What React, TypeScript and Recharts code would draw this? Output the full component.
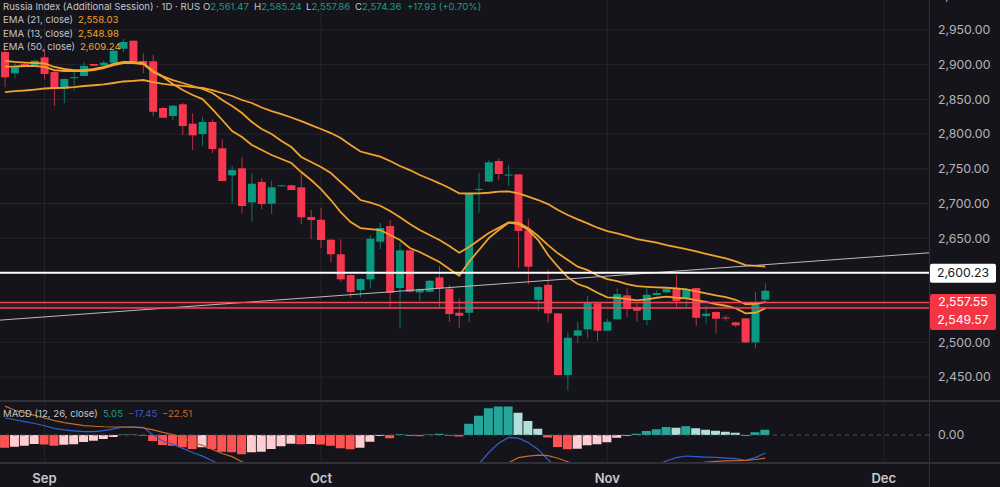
import {
  Bar,
  CartesianGrid,
  Cell,
  ComposedChart,
  Line,
  ReferenceArea,
  ReferenceLine,
  XAxis,
  YAxis,
} from "recharts";

const opens = [
  2918.3, 2887.6, 2901, 2899.1, 2910.6, 2889.4, 2865.4, 2880.5, 2883.7, 2901, 2899.1, 2902.8, 2923, 2934.6, 2905.3, 2904.9,
  2837.6, 2826, 2842.9, 2815, 2800.1, 2817.4, 2779.5, 2740.6, 2750.7, 2701.7, 2731, 2699.7, 2724.9, 2726.2, 2723.3, 2680.5,
  2676.6, 2647.8, 2626.8, 2596.9, 2575.3, 2590.7, 2645, 2667.5, 2578.2, 2632.5, 2572, 2572.9, 2593.6, 2577.2, 2542.6, 2542.6,
  2719.7, 2731.4, 2761.2, 2740.3, 2742, 2661.3, 2561.3, 2582.9, 2541.7, 2452.8, 2509.5, 2518.7, 2556.2, 2516.7, 2533.1, 2567.7,
  2550.4, 2532.1, 2568.1, 2572, 2577.7, 2562.3, 2578.2, 2537.8, 2543.6, 2535.7, 2528.8, 2534.5, 2499.9, 2561.47,
];
const highs = [
  2921.2, 2902, 2902.4, 2906.7, 2922.2, 2891.3, 2880.4, 2889.9, 2903.4, 2901.7, 2905.7, 2921.2, 2937, 2934.6, 2916.4, 2914,
  2839, 2841.9, 2845.2, 2829.9, 2825, 2821.3, 2792.5, 2754, 2767.4, 2743.5, 2736.3, 2732.8, 2726.6, 2726.6, 2743.5, 2690.6,
  2693, 2648.8, 2648.4, 2597.9, 2592.2, 2654.6, 2672.3, 2676.2, 2643.5, 2633.4, 2577.7, 2589.7, 2609.9, 2582.5, 2563.3, 2714.5,
  2744.3, 2762.6, 2765.1, 2755.4, 2742, 2677.2, 2580.6, 2605.1, 2542.2, 2514.4, 2529.6, 2566.7, 2557, 2533.5, 2577.7, 2577.7,
  2556.2, 2577.7, 2575.3, 2578.6, 2596.9, 2578.2, 2578.6, 2552.7, 2544.6, 2539.3, 2529.2, 2535, 2572.9, 2585.24,
];
const lows = [
  2867.4, 2880.4, 2896.7, 2898.1, 2878.9, 2840.4, 2844.3, 2862.5, 2883, 2898.1, 2898.8, 2902.4, 2918.3, 2903.9, 2887.6, 2826,
  2823.2, 2820.3, 2798.7, 2777, 2782.8, 2772.3, 2732, 2701.1, 2686.7, 2673.7, 2692, 2684.8, 2724.5, 2719, 2670.4, 2648.8,
  2636.3, 2615.2, 2587.3, 2564.2, 2564.8, 2577.8, 2634.4, 2548.9, 2520.1, 2571.4, 2559.9, 2571.4, 2548.9, 2529.2, 2521, 2528.8,
  2686.7, 2731, 2733.8, 2725.2, 2607.4, 2583.5, 2545, 2528.8, 2452.1, 2430.2, 2499.4, 2505.7, 2501.8, 2516.2, 2532.8, 2536.8,
  2529.6, 2524.9, 2567.7, 2571.4, 2551.2, 2549.8, 2523.9, 2527.3, 2512.9, 2531.1, 2522, 2499, 2491.3, 2557.86,
];
const closes = [
  2881.8, 2896.2, 2898.1, 2905.7, 2886.6, 2865.4, 2879.4, 2882, 2898.1, 2898.5, 2902.8, 2920.1, 2932.7, 2904.9, 2899.5, 2832.2,
  2823.6, 2840.9, 2811.6, 2798.2, 2817.4, 2778.5, 2732.4, 2748.2, 2696.4, 2728.5, 2699.2, 2723.3, 2726.2, 2719.4, 2680.1, 2676.2,
  2647.4, 2626.8, 2590.7, 2572.4, 2591.2, 2649.2, 2664.7, 2571.4, 2632.5, 2572.9, 2576.7, 2588.7, 2577.7, 2540.7, 2538.3, 2714.1,
  2721.1, 2759.3, 2742.5, 2741.7, 2660.3, 2608.9, 2579.6, 2541.7, 2452.8, 2506.6, 2517.2, 2556.6, 2516.7, 2529.6, 2569.5, 2547.9,
  2545.5, 2568.5, 2571, 2576.7, 2559.5, 2576.3, 2535.4, 2541.2, 2534, 2534.5, 2524.4, 2499.9, 2555.1, 2574.36,
];

const ema50 = [
  2860.6, 2862, 2862.8, 2864.2, 2865.7, 2866.4, 2866.8, 2867.8, 2869.3, 2870.4, 2871.7, 2873.6, 2875.8, 2876.8, 2877.9, 2875,
  2872.2, 2870.7, 2869.6, 2867.8, 2866.4, 2863.5, 2859.2, 2854.9, 2849.1, 2844.8, 2838.3, 2833.2, 2828.9, 2823.9, 2818.8, 2813,
  2807.3, 2801.5, 2794.3, 2784.3, 2774.9, 2771.3, 2767.4, 2761.2, 2754, 2748.2, 2741, 2735.3, 2729.1, 2722.3, 2714.7, 2714.4,
  2714.7, 2715.5, 2717, 2717.5, 2714.7, 2709.8, 2705, 2699.2, 2690.6, 2683.4, 2677.2, 2671.4, 2665.1, 2660.3, 2657, 2653.1,
  2648.8, 2646.3, 2643.5, 2640.1, 2637.3, 2634.4, 2631.1, 2627.6, 2624.3, 2621, 2616.7, 2611.3, 2610, 2609.24,
];
const ema21 = [
  2905.3, 2903.9, 2903.1, 2902.4, 2901.7, 2896.7, 2893.8, 2892.3, 2892.3, 2893.8, 2896.7, 2901, 2903.9, 2903.9, 2902.4, 2890.9,
  2883.2, 2877.9, 2873.6, 2869.3, 2865, 2859.2, 2849.1, 2840.4, 2830.4, 2817.4, 2807.3, 2800.1, 2790, 2781.4, 2767, 2759.8,
  2752.6, 2743.9, 2730.9, 2718, 2705, 2701.4, 2696.8, 2689.2, 2680.1, 2670.4, 2661.8, 2654.6, 2647.4, 2638.7, 2629.1, 2637.3,
  2647.4, 2657.4, 2665.1, 2672.9, 2672.3, 2664.2, 2653.1, 2640.1, 2628.2, 2618.6, 2609, 2604.1, 2596.5, 2591.2, 2588.3, 2584,
  2581, 2580, 2579.2, 2578.6, 2577.7, 2576.3, 2573.4, 2570.6, 2567.7, 2565.2, 2561.3, 2555.1, 2555.6, 2558.03,
];
const ema13 = [
  2897.1, 2897.4, 2898.1, 2898.1, 2896.7, 2892.3, 2890.9, 2890.9, 2890.9, 2892.3, 2895.2, 2899.5, 2902.4, 2902.4, 2901, 2889.4,
  2882.2, 2872.2, 2863.5, 2856.3, 2850.5, 2836.1, 2820.3, 2804.4, 2795.8, 2784.3, 2777.1, 2769.9, 2764.1, 2758.3, 2745.3, 2733.8,
  2720.8, 2705, 2687.7, 2673.3, 2664.6, 2663.2, 2661.8, 2654.6, 2647.4, 2635.8, 2630.1, 2622.9, 2615.7, 2605.6, 2595.9, 2616.1,
  2633, 2650.2, 2661.8, 2672.3, 2670.4, 2661.8, 2647.4, 2625.7, 2608.9, 2593.6, 2584, 2579.2, 2571.4, 2564.8, 2564.2, 2562.3,
  2560.5, 2561.9, 2564.2, 2565.7, 2564.2, 2563.3, 2560.9, 2558.4, 2555.1, 2552.7, 2549, 2541.7, 2542.6, 2548.98,
];

const histogram = [
  -12.3, -11.3, -10.4, -8.8, -9.2, -10.4, -9.4, -9, -6.8, -5.5, -3.9, -1.9, 0.5, 0.3, -0.8, -5.8,
  -9.7, -10.4, -12, -13.6, -12, -13.6, -16.2, -16.8, -18.8, -16.8, -16.2, -13.6, -11, -8.5, -9, -8.7,
  -9.2, -10.4, -12.9, -13.9, -12.3, -6.5, -1, -3.2, 0.8, -1, -1.1, 0.5, 1.3, -0.7, -1.5, 11,
  18.8, 25.9, 27.6, 27.8, 21.7, 13.6, 6.1, -2.5, -11.7, -13.9, -13.3, -10, -9, -7.1, -2.6, -0.7,
  1.3, 3.9, 5.5, 7.8, 7.1, 8.4, 6.5, 5.2, 4.2, 3.2, 2.2, -1, 2.6, 5.05,
];
const macdLine = [
  16.5, 14.8, 13, 11.2, 9, 6.5, 5, 4, 3.2, 3.3, 4.2, 6, 7.8, 7.8, 7.4, 0,
  -6, -9, -13, -17, -20.5, -25, -30, -34, -38, -42, -44, -45, -46, -47, -48, -49,
  -50, -51, -52, -53, -54, -52, -51, -50, -49, -48, -46, -45, -44, -45, -46, -38,
  -28, -17, -8, -2.3, -3, -7.4, -14, -24, -33, -38, -42, -44, -44, -42, -40, -38,
  -36, -33, -29, -25, -22, -20.4, -21, -21.4, -21.8, -22.4, -23, -24.6, -22, -17.45,
];
const signalLine = [
  28, 24, 21.5, 19, 16.5, 14, 12, 10.5, 9.2, 8.5, 8, 7.8, 7.8, 7.6, 7, 5,
  2.5, 0.5, -3, -7, -10, -14, -18, -21, -26, -29, -31, -33, -35, -37, -38, -39,
  -40, -41, -42, -43, -44, -44, -45, -45, -45, -45, -45, -45, -45, -45, -45, -43,
  -39, -34, -31, -27, -22, -20.5, -19.5, -20, -22.6, -26, -30, -33, -35, -36, -36, -36,
  -35.5, -35, -33.5, -32, -31, -29.5, -28, -26.2, -25.7, -25.2, -24.9, -24.6, -23.8, -22.51,
];

const priceTicks = [3000, 2950, 2900, 2850, 2800, 2750, 2700, 2650, 2500, 2450];
const priceGrid = [3000, 2950, 2900, 2850, 2800, 2750, 2700, 2650, 2600, 2550, 2500, 2450];
const monthTicks = [4, 32, 61, 89];
const monthLabels = ["Sep", "Oct", "Nov", "Dec"];

const BG = "#14141a";
const GRID = "#25252b";
const BORDER = "#303036";
const AXIS_TEXT = "#b4b5bb";
const UP = "#089981";
const DOWN = "#f7374f";
const EMA_COLOR = "#f2a22e";
const FONT = "Inter, sans-serif";

const xDomain = [-0.506, 93.58];

const priceData = opens.map((open, i) => ({
  i,
  open,
  close: closes[i],
  range: [lows[i], highs[i]],
  ema13: ema13[i],
  ema21: ema21[i],
  ema50: ema50[i],
}));

const macdData = histogram.map((hist, i) => ({
  i,
  hist,
  macd: macdLine[i],
  signal: signalLine[i],
}));

function histColor(i: number) {
  const v = histogram[i];
  const prev = i > 0 ? histogram[i - 1] : Infinity;
  if (v >= 0) return v >= prev ? "#26a69a" : "#b2dfdb";
  return v < prev ? "#ff5252" : "#ffcdd2";
}

function Candle(props: any) {
  const { x, y, width, height, payload } = props;
  const high = payload.range[1];
  const low = payload.range[0];
  const perUnit = Math.abs(height) / Math.max(high - low, 0.01);
  const top = Math.min(y, y + height);
  const bodyTop = top + (high - Math.max(payload.open, payload.close)) * perUnit;
  const bodyH = Math.max(Math.abs(payload.open - payload.close) * perUnit, 1);
  const color = payload.close >= payload.open ? UP : DOWN;
  const cx = x + width / 2;
  return (
    <g>
      <line x1={cx} x2={cx} y1={top} y2={top + Math.abs(height)} stroke={color} strokeWidth={1} strokeOpacity={0.75} />
      <rect x={x} y={bodyTop} width={width} height={bodyH} fill={color} />
    </g>
  );
}

function WhiteTag({ viewBox }: any) {
  const y = viewBox.y;
  return (
    <g>
      <rect x={930} y={y - 9} width={66} height={19} rx={2} fill="#ffffff" />
      <text x={963} y={y + 0.5} textAnchor="middle" dominantBaseline="middle" fill="#17171c" fontSize={12.3} fontFamily={FONT}>
        2,600.23
      </text>
    </g>
  );
}

function RedTag({ viewBox }: any) {
  const y = viewBox.y;
  return (
    <g>
      <rect x={930} y={y - 8.5} width={66} height={36} rx={2} fill="#f23645" />
      <text x={963} y={y + 0.5} textAnchor="middle" dominantBaseline="middle" fill="#fff" fontSize={12.3} fontFamily={FONT}>
        2,557.55
      </text>
      <text x={963} y={y + 18} textAnchor="middle" dominantBaseline="middle" fill="#fff" fontSize={12.3} fontFamily={FONT}>
        2,549.57
      </text>
    </g>
  );
}

const legendRows = [
  { label: "EMA (21, close)", value: "2,558.03", top: 13, x: 78 },
  { label: "EMA (13, close)", value: "2,548.98", top: 26.5, x: 78 },
  { label: "EMA (50, close)", value: "2,609.24", top: 39.5, x: 80 },
];
const ohlc = [
  { label: "O", value: "2,561.47", x: 203 },
  { label: "H", value: "2,585.24", x: 254 },
  { label: "L", value: "2,557.86", x: 306 },
  { label: "C", value: "2,574.36", x: 355 },
];

function Txt({ x, y, color, children }: any) {
  return (
    <div
      style={{
        position: "absolute",
        left: x,
        top: y,
        color,
        fontSize: 9.6,
        lineHeight: "13px",
        whiteSpace: "nowrap",
        fontFamily: FONT,
      }}
    >
      {children}
    </div>
  );
}

export default function App() {
  return (
    <div style={{ position: "absolute", left: 0, top: 0, width: 1000, height: 487, overflow: "hidden", background: BG }}>
      <div style={{ position: "absolute", left: 0, top: -10 }}>
        <ComposedChart width={1000} height={410} data={priceData} margin={{ top: 0, right: 0, bottom: 0, left: 0 }}>
          <CartesianGrid stroke={GRID} horizontalValues={priceGrid} verticalValues={monthTicks} />
          <XAxis dataKey="i" type="number" domain={xDomain} allowDataOverflow hide />
          <YAxis
            orientation="right"
            width={71}
            domain={[2416.9, 3007.6]}
            allowDataOverflow
            ticks={priceTicks}
            interval={0}
            axisLine={false}
            tickLine={false}
            tickMargin={3}
            tick={{ fill: AXIS_TEXT, fontSize: 12.3, fontFamily: FONT }}
            tickFormatter={(v: number) => v.toLocaleString("en-US", { minimumFractionDigits: 2 })}
          />
          <ReferenceArea y1={2549.57} y2={2557.55} fill="#f23645" fillOpacity={0.14} stroke="none" />
          <Bar dataKey="range" barSize={8} shape={<Candle />} isAnimationActive={false} />
          <Line dataKey="ema50" stroke={EMA_COLOR} strokeWidth={1.8} dot={false} activeDot={false} isAnimationActive={false} />
          <Line dataKey="ema21" stroke={EMA_COLOR} strokeWidth={1.8} dot={false} activeDot={false} isAnimationActive={false} />
          <Line dataKey="ema13" stroke={EMA_COLOR} strokeWidth={1.8} dot={false} activeDot={false} isAnimationActive={false} />
          <ReferenceLine
            segment={[
              { x: -0.506, y: 2532 },
              { x: 93.58, y: 2629 },
            ]}
            stroke="#b9bac0"
            strokeWidth={1}
            ifOverflow="visible"
          />
          <ReferenceLine y={2600.23} stroke="#ffffff" strokeWidth={2} label={<WhiteTag />} />
          <ReferenceLine y={2557.55} stroke="#e8485a" strokeWidth={1.5} label={<RedTag />} />
          <ReferenceLine y={2549.57} stroke="#e8485a" strokeWidth={1.5} />
        </ComposedChart>
      </div>

      <div style={{ position: "absolute", left: 0, top: 400 }}>
        <ComposedChart width={1000} height={87} data={macdData} margin={{ top: 0, right: 0, bottom: 0, left: 0 }}>
          <CartesianGrid stroke={GRID} horizontal={false} verticalValues={monthTicks} />
          <XAxis
            dataKey="i"
            type="number"
            domain={xDomain}
            allowDataOverflow
            ticks={monthTicks}
            interval={0}
            height={24.5}
            axisLine={false}
            tickLine={false}
            tickMargin={5}
            tick={{ fill: "#c8c9ce", fontSize: 13, fontWeight: 600, fontFamily: FONT }}
            tickFormatter={(v: number) => monthLabels[monthTicks.indexOf(v)]}
          />
          <YAxis
            orientation="right"
            width={71}
            domain={[-26.7, 34]}
            allowDataOverflow
            ticks={[0]}
            interval={0}
            axisLine={false}
            tickLine={false}
            tickMargin={3}
            tick={{ fill: AXIS_TEXT, fontSize: 12.3, fontFamily: FONT }}
            tickFormatter={(v: number) => v.toFixed(2)}
          />
          <ReferenceLine y={0} stroke="#55555c" strokeDasharray="4 4" />
          <Bar dataKey="hist" barSize={9} isAnimationActive={false}>
            {macdData.map((d) => (
              <Cell key={d.i} fill={histColor(d.i)} />
            ))}
          </Bar>
          <Line dataKey="macd" stroke="#2f5fd0" strokeWidth={1.2} dot={false} activeDot={false} isAnimationActive={false} />
          <Line dataKey="signal" stroke="#c8682c" strokeWidth={1.2} dot={false} activeDot={false} isAnimationActive={false} />
        </ComposedChart>
      </div>

      <div style={{ position: "absolute", left: 0, right: 0, top: 400, height: 1.5, background: BORDER }} />
      <div style={{ position: "absolute", left: 0, right: 0, top: 462, height: 1.5, background: BORDER }} />
      <div style={{ position: "absolute", left: 929, top: 0, width: 1, height: 487, background: BORDER }} />

      <Txt x={3} y={0} color="#c4c6cc">
        Russia Index (Additional Session) · 1D · RUS
      </Txt>
      {ohlc.map((o) => (
        <Txt key={o.label} x={o.x} y={0} color="#c4c6cc">
          {o.label}
          <span style={{ color: "#1f9c85" }}>{o.value}</span>
        </Txt>
      ))}
      <Txt x={407} y={0} color="#1f9c85">
        +17.93 (+0.70%)
      </Txt>
      {legendRows.map((r) => (
        <div key={r.label}>
          <Txt x={3} y={r.top} color="#c4c6cc">
            {r.label}
          </Txt>
          <Txt x={r.x} y={r.top} color={EMA_COLOR}>
            {r.value}
          </Txt>
        </div>
      ))}
      <Txt x={3} y={407} color="#c4c6cc">
        MACD (12, 26, close)
      </Txt>
      <Txt x={103} y={407} color="#1f9c85">
        5.05
      </Txt>
      <Txt x={128} y={407} color="#2f5fd0">
        −17.45
      </Txt>
      <Txt x={162} y={407} color="#c8682c">
        −22.51
      </Txt>
    </div>
  );
}
